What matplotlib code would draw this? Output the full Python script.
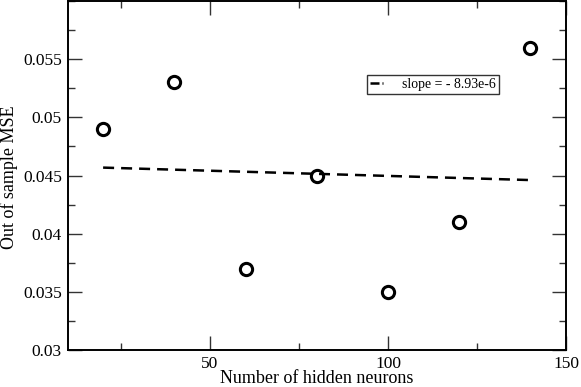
import numpy as np
import matplotlib
matplotlib.use("Agg")
import matplotlib.pyplot as plt
from matplotlib.ticker import MultipleLocator
from matplotlib.lines import Line2D

neurons = [20, 40, 60, 80, 100, 120, 140]
mse = [0.049, 0.053, 0.037, 0.045, 0.035, 0.041, 0.056]
slope_label = "slope = - 8.93e-6"

plt.rcParams['font.family'] = ['Liberation Serif', 'DejaVu Serif']

fig = plt.figure(figsize=(5.81, 3.87), dpi=100)
ax = fig.add_axes([67.5/581, 1 - 350/387, (566-67.5)/581, (350-1)/387])

x = np.array(neurons, dtype=float)
y = np.array(mse)
k, b = np.polyfit(x, y, 1)
xf = np.array([x.min(), x.max()])
ax.plot(xf, k*xf + b, color='black', lw=1.8, dashes=(4.4, 2.8))
ax.plot(x, y, 'o', ms=8.8, mfc='none', mec='black', mew=2.2, ls='none')

ax.set_xlim(10, 150)
ax.set_ylim(0.03, 0.06)
ax.xaxis.set_major_locator(MultipleLocator(50))
ax.xaxis.set_minor_locator(MultipleLocator(25))
ax.yaxis.set_minor_locator(MultipleLocator(0.0025))
ax.set_yticks([0.03, 0.035, 0.04, 0.045, 0.05, 0.055])
ax.set_yticklabels(['0.03', '0.035', '0.04', '0.045', '0.05', '0.055'])
ax.tick_params(which='both', direction='in', top=True, right=True, labelsize=12.5, width=1.0, color='#333333')
ax.tick_params(which='major', length=10, pad=4)
ax.tick_params(which='minor', length=5)
for s in ax.spines.values():
    s.set_linewidth(1.4)

ax.set_xlabel('Number of hidden neurons', fontsize=13, labelpad=-1)
ax.set_ylabel('Out of sample MSE', fontsize=13)
ax.yaxis.set_label_coords((18 - 67.5)/498.5, 0.5 - 1.5/349)

handle = Line2D([0], [0], color='black', lw=1.8, dashes=(3.6, 1.2, 0.8, 6))
leg = ax.legend([handle], [slope_label], loc='upper left',
                bbox_to_anchor=((366.5-67.5)/498.5, 1 - (75-1)/349), fontsize=9.9,
                frameon=True, fancybox=False, edgecolor='black', handlelength=0.95,
                borderpad=0.22, handletextpad=1.4, borderaxespad=0)
leg.get_frame().set_linewidth(1.0)

fig.savefig('out.png', dpi=100)
